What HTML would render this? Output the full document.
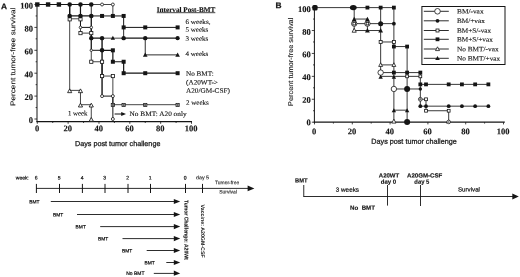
<!DOCTYPE html>
<html lang="en">
<head>
<meta charset="utf-8">
<title>Figure</title>
<style>
html,body{margin:0;padding:0;background:#fff;}
body{width:520px;height:277px;overflow:hidden;}
svg{display:block;}
</style>
</head>
<body>
<svg width="520" height="277" viewBox="0 0 520 277">
<rect x="0" y="0" width="520" height="277" fill="#fff"/>
<line x1="37.00" y1="4.00" x2="37.00" y2="122.10" stroke="#151515" stroke-width="1.0"/>
<line x1="36.50" y1="121.60" x2="192.00" y2="121.60" stroke="#151515" stroke-width="1.1"/>
<line x1="37.00" y1="119.00" x2="34.40" y2="119.00" stroke="#151515" stroke-width="0.8"/>
<line x1="37.00" y1="107.55" x2="35.60" y2="107.55" stroke="#151515" stroke-width="0.8"/>
<line x1="37.00" y1="96.10" x2="34.40" y2="96.10" stroke="#151515" stroke-width="0.8"/>
<line x1="37.00" y1="84.65" x2="35.60" y2="84.65" stroke="#151515" stroke-width="0.8"/>
<line x1="37.00" y1="73.20" x2="34.40" y2="73.20" stroke="#151515" stroke-width="0.8"/>
<line x1="37.00" y1="61.75" x2="35.60" y2="61.75" stroke="#151515" stroke-width="0.8"/>
<line x1="37.00" y1="50.30" x2="34.40" y2="50.30" stroke="#151515" stroke-width="0.8"/>
<line x1="37.00" y1="38.85" x2="35.60" y2="38.85" stroke="#151515" stroke-width="0.8"/>
<line x1="37.00" y1="27.40" x2="34.40" y2="27.40" stroke="#151515" stroke-width="0.8"/>
<line x1="37.00" y1="15.95" x2="35.60" y2="15.95" stroke="#151515" stroke-width="0.8"/>
<line x1="37.00" y1="4.50" x2="34.40" y2="4.50" stroke="#151515" stroke-width="0.8"/>
<line x1="37.30" y1="121.60" x2="37.30" y2="123.80" stroke="#151515" stroke-width="0.8"/>
<line x1="52.72" y1="121.60" x2="52.72" y2="123.00" stroke="#151515" stroke-width="0.8"/>
<line x1="68.14" y1="121.60" x2="68.14" y2="123.80" stroke="#151515" stroke-width="0.8"/>
<line x1="83.56" y1="121.60" x2="83.56" y2="123.00" stroke="#151515" stroke-width="0.8"/>
<line x1="98.98" y1="121.60" x2="98.98" y2="123.80" stroke="#151515" stroke-width="0.8"/>
<line x1="114.40" y1="121.60" x2="114.40" y2="123.00" stroke="#151515" stroke-width="0.8"/>
<line x1="129.82" y1="121.60" x2="129.82" y2="123.80" stroke="#151515" stroke-width="0.8"/>
<line x1="145.24" y1="121.60" x2="145.24" y2="123.00" stroke="#151515" stroke-width="0.8"/>
<line x1="160.66" y1="121.60" x2="160.66" y2="123.80" stroke="#151515" stroke-width="0.8"/>
<line x1="176.08" y1="121.60" x2="176.08" y2="123.00" stroke="#151515" stroke-width="0.8"/>
<line x1="191.50" y1="121.60" x2="191.50" y2="123.80" stroke="#151515" stroke-width="0.8"/>
<text transform="translate(33.00,123.00) rotate(0.05)" font-family="'Liberation Serif', serif" font-size="8.5" font-weight="bold" text-anchor="end" fill="#151515" stroke="#151515" stroke-width="0.12">0</text>
<text transform="translate(33.00,100.10) rotate(0.05)" font-family="'Liberation Serif', serif" font-size="8.5" font-weight="bold" text-anchor="end" fill="#151515" stroke="#151515" stroke-width="0.12">20</text>
<text transform="translate(33.00,77.20) rotate(0.05)" font-family="'Liberation Serif', serif" font-size="8.5" font-weight="bold" text-anchor="end" fill="#151515" stroke="#151515" stroke-width="0.12">40</text>
<text transform="translate(33.00,54.30) rotate(0.05)" font-family="'Liberation Serif', serif" font-size="8.5" font-weight="bold" text-anchor="end" fill="#151515" stroke="#151515" stroke-width="0.12">60</text>
<text transform="translate(33.00,31.40) rotate(0.05)" font-family="'Liberation Serif', serif" font-size="8.5" font-weight="bold" text-anchor="end" fill="#151515" stroke="#151515" stroke-width="0.12">80</text>
<text transform="translate(33.00,8.50) rotate(0.05)" font-family="'Liberation Serif', serif" font-size="8.5" font-weight="bold" text-anchor="end" fill="#151515" stroke="#151515" stroke-width="0.12">100</text>
<text transform="translate(37.00,131.20) rotate(0.05)" font-family="'Liberation Serif', serif" font-size="8.5" font-weight="bold" text-anchor="middle" fill="#151515" stroke="#151515" stroke-width="0.12">0</text>
<text transform="translate(67.84,131.20) rotate(0.05)" font-family="'Liberation Serif', serif" font-size="8.5" font-weight="bold" text-anchor="middle" fill="#151515" stroke="#151515" stroke-width="0.12">20</text>
<text transform="translate(98.68,131.20) rotate(0.05)" font-family="'Liberation Serif', serif" font-size="8.5" font-weight="bold" text-anchor="middle" fill="#151515" stroke="#151515" stroke-width="0.12">40</text>
<text transform="translate(129.52,131.20) rotate(0.05)" font-family="'Liberation Serif', serif" font-size="8.5" font-weight="bold" text-anchor="middle" fill="#151515" stroke="#151515" stroke-width="0.12">60</text>
<text transform="translate(160.36,131.20) rotate(0.05)" font-family="'Liberation Serif', serif" font-size="8.5" font-weight="bold" text-anchor="middle" fill="#151515" stroke="#151515" stroke-width="0.12">80</text>
<text transform="translate(191.20,131.20) rotate(0.05)" font-family="'Liberation Serif', serif" font-size="8.5" font-weight="bold" text-anchor="middle" fill="#151515" stroke="#151515" stroke-width="0.12">100</text>
<polyline points="37.30,4.50 91.27,4.50" fill="none" stroke="#151515" stroke-width="1.2"/>
<polyline points="91.27,4.50 112.86,4.50 112.86,15.95" fill="none" stroke="#151515" stroke-width="0.8"/>
<polyline points="91.27,4.50 91.27,15.95" fill="none" stroke="#151515" stroke-width="0.9"/>
<polyline points="69.68,4.50 69.68,90.38 80.48,90.38 80.48,104.69 91.27,104.69 91.27,119.00" fill="none" stroke="#151515" stroke-width="0.8"/>
<polyline points="80.48,4.50 80.48,27.40 91.27,27.40 91.27,50.30 102.06,50.30" fill="none" stroke="#151515" stroke-width="1.0"/>
<polyline points="102.06,96.10 112.86,96.10 112.86,119.00" fill="none" stroke="#151515" stroke-width="1.0"/>
<polyline points="69.68,4.50 69.68,18.81 80.48,18.81 80.48,33.12 91.27,33.12 91.27,61.75 102.06,61.75 102.06,76.06 112.86,76.06 112.86,104.69 177.62,104.69" fill="none" stroke="#151515" stroke-width="0.8"/>
<polyline points="69.68,4.50 69.68,15.95 91.27,15.95" fill="none" stroke="#151515" stroke-width="1.2"/>
<polyline points="91.27,15.95 123.65,15.95 123.65,27.40 177.62,27.40" fill="none" stroke="#151515" stroke-width="1.0"/>
<polyline points="123.65,27.40 123.65,38.16" fill="none" stroke="#151515" stroke-width="0.9"/>
<polyline points="80.48,4.50 80.48,15.95" fill="none" stroke="#151515" stroke-width="1.2"/>
<polyline points="91.27,15.95 91.27,38.16 102.06,38.16" fill="none" stroke="#151515" stroke-width="1.3"/>
<polyline points="102.06,38.16 123.65,38.16" fill="none" stroke="#151515" stroke-width="0.8"/>
<polyline points="123.65,38.16 177.62,38.16" fill="none" stroke="#151515" stroke-width="1.1"/>
<polyline points="145.24,38.16 145.24,54.88 177.62,54.88" fill="none" stroke="#151515" stroke-width="0.9"/>
<polyline points="102.06,50.30 112.86,50.30 112.86,61.75 123.65,61.75 123.65,73.20 177.62,73.20" fill="none" stroke="#151515" stroke-width="1.2"/>
<polyline points="102.06,38.16 102.06,96.10" fill="none" stroke="#151515" stroke-width="1.4"/>
<rect x="35.10" y="2.30" width="4.40" height="4.40" fill="#151515"/>
<rect x="45.89" y="2.30" width="4.40" height="4.40" fill="#151515"/>
<rect x="56.69" y="2.30" width="4.40" height="4.40" fill="#151515"/>
<circle cx="69.68" cy="4.50" r="2.30" fill="#151515"/>
<circle cx="80.48" cy="4.50" r="2.30" fill="#151515"/>
<circle cx="91.27" cy="4.50" r="2.30" fill="#151515"/>
<circle cx="102.06" cy="4.50" r="1.50" fill="#fff" stroke="#151515" stroke-width="0.8"/>
<circle cx="112.86" cy="4.50" r="1.50" fill="#fff" stroke="#151515" stroke-width="0.8"/>
<rect x="68.08" y="17.71" width="3.20" height="3.20" fill="#fff" stroke="#151515" stroke-width="0.8"/>
<rect x="78.88" y="17.71" width="3.20" height="3.20" fill="#fff" stroke="#151515" stroke-width="0.8"/>
<circle cx="69.68" cy="15.95" r="2.30" fill="#151515"/>
<circle cx="80.48" cy="15.95" r="2.30" fill="#151515"/>
<circle cx="91.27" cy="15.95" r="2.30" fill="#151515"/>
<rect x="100.06" y="13.95" width="4.00" height="4.00" fill="#151515"/>
<rect x="110.86" y="13.95" width="4.00" height="4.00" fill="#151515"/>
<rect x="121.65" y="13.95" width="4.00" height="4.00" fill="#151515"/>
<circle cx="80.48" cy="27.40" r="1.30" fill="#fff" stroke="#151515" stroke-width="0.8"/>
<circle cx="91.27" cy="27.40" r="1.30" fill="#fff" stroke="#151515" stroke-width="0.8"/>
<rect x="121.65" y="25.40" width="4.00" height="4.00" fill="#151515"/>
<rect x="143.24" y="25.40" width="4.00" height="4.00" fill="#151515"/>
<rect x="175.62" y="25.40" width="4.00" height="4.00" fill="#151515"/>
<rect x="78.88" y="31.52" width="3.20" height="3.20" fill="#fff" stroke="#151515" stroke-width="0.8"/>
<rect x="89.67" y="31.52" width="3.20" height="3.20" fill="#fff" stroke="#151515" stroke-width="0.8"/>
<circle cx="91.27" cy="38.16" r="2.20" fill="#151515"/>
<circle cx="102.06" cy="38.16" r="2.20" fill="#151515"/>
<circle cx="123.65" cy="38.16" r="2.20" fill="#151515"/>
<circle cx="145.24" cy="38.16" r="2.20" fill="#151515"/>
<polygon points="112.86,35.86 115.06,39.86 110.66,39.86" fill="#151515"/>
<circle cx="177.62" cy="38.16" r="2.10" fill="#151515"/>
<circle cx="91.27" cy="50.30" r="1.20" fill="#fff" stroke="#151515" stroke-width="0.8"/>
<circle cx="102.06" cy="50.30" r="2.30" fill="#151515"/>
<rect x="110.86" y="48.30" width="4.00" height="4.00" fill="#151515"/>
<polygon points="145.24,52.48 147.54,56.68 142.94,56.68" fill="#151515"/>
<polygon points="177.62,52.48 179.92,56.68 175.32,56.68" fill="#151515"/>
<rect x="89.67" y="60.15" width="3.20" height="3.20" fill="#fff" stroke="#151515" stroke-width="0.8"/>
<rect x="100.46" y="60.15" width="3.20" height="3.20" fill="#fff" stroke="#151515" stroke-width="0.8"/>
<rect x="110.86" y="59.75" width="4.00" height="4.00" fill="#151515"/>
<rect x="121.65" y="59.75" width="4.00" height="4.00" fill="#151515"/>
<rect x="121.65" y="71.20" width="4.00" height="4.00" fill="#151515"/>
<rect x="143.24" y="71.20" width="4.00" height="4.00" fill="#151515"/>
<rect x="175.62" y="71.20" width="4.00" height="4.00" fill="#151515"/>
<rect x="100.46" y="74.46" width="3.20" height="3.20" fill="#fff" stroke="#151515" stroke-width="0.8"/>
<rect x="111.26" y="74.46" width="3.20" height="3.20" fill="#fff" stroke="#151515" stroke-width="0.8"/>
<polygon points="69.68,88.88 71.78,92.67 67.58,92.67" fill="#fff" stroke="#151515" stroke-width="0.85"/>
<polygon points="80.48,88.88 82.58,92.67 78.38,92.67" fill="#fff" stroke="#151515" stroke-width="0.85"/>
<polygon points="80.48,103.19 82.58,106.99 78.38,106.99" fill="#fff" stroke="#151515" stroke-width="0.85"/>
<polygon points="91.27,103.19 93.37,106.99 89.17,106.99" fill="#fff" stroke="#151515" stroke-width="0.85"/>
<polygon points="91.27,117.50 93.37,121.30 89.17,121.30" fill="#fff" stroke="#151515" stroke-width="0.85"/>
<circle cx="102.06" cy="96.10" r="1.50" fill="#fff" stroke="#151515" stroke-width="0.8"/>
<circle cx="112.86" cy="96.10" r="1.50" fill="#fff" stroke="#151515" stroke-width="0.8"/>
<rect x="111.26" y="103.39" width="3.20" height="3.20" fill="#fff" stroke="#151515" stroke-width="0.8"/>
<circle cx="112.86" cy="104.99" r="1.3" fill="#666"/>
<rect x="122.05" y="103.39" width="3.20" height="3.20" fill="#fff" stroke="#151515" stroke-width="0.8"/>
<circle cx="123.65" cy="104.99" r="1.3" fill="#666"/>
<rect x="143.64" y="103.39" width="3.20" height="3.20" fill="#fff" stroke="#151515" stroke-width="0.8"/>
<circle cx="145.24" cy="104.99" r="1.3" fill="#666"/>
<rect x="176.02" y="103.39" width="3.20" height="3.20" fill="#fff" stroke="#151515" stroke-width="0.8"/>
<circle cx="177.62" cy="104.99" r="1.3" fill="#666"/>
<circle cx="112.86" cy="119.00" r="1.50" fill="#fff" stroke="#151515" stroke-width="0.8"/>
<text transform="translate(1.00,9.30) rotate(0.05)" font-family="'Liberation Sans', sans-serif" font-size="8.4" font-weight="bold" text-anchor="start" fill="#151515" stroke="#151515" stroke-width="0.22">A</text>
<text transform="translate(15.20,106.00) rotate(-89.95) scale(1.1892,1)" font-family="'Liberation Sans', sans-serif" font-size="6.9" font-weight="normal" text-anchor="start" fill="#151515" stroke="#151515" stroke-width="0.1">Percent tumor-free survival</text>
<text transform="translate(156.80,12.00) rotate(0.05) scale(0.9984,1)" font-family="'Liberation Serif', serif" font-size="7.2" font-weight="bold" text-anchor="start" fill="#151515" stroke="#151515" stroke-width="0.15">Interval Post-BMT</text>
<line x1="156.80" y1="12.70" x2="215.30" y2="12.70" stroke="#151515" stroke-width="0.8"/>
<text transform="translate(185.50,24.00) rotate(0.05) scale(1.0664,1)" font-family="'Liberation Serif', serif" font-size="6.7" font-weight="normal" text-anchor="start" fill="#151515" stroke="#151515" stroke-width="0.12">6 weeks,</text>
<text transform="translate(185.50,31.80) rotate(0.05) scale(1.0474,1)" font-family="'Liberation Serif', serif" font-size="6.7" font-weight="normal" text-anchor="start" fill="#151515" stroke="#151515" stroke-width="0.12">5 weeks</text>
<text transform="translate(185.50,40.80) rotate(0.05) scale(1.0474,1)" font-family="'Liberation Serif', serif" font-size="6.7" font-weight="normal" text-anchor="start" fill="#151515" stroke="#151515" stroke-width="0.12">3 weeks</text>
<text transform="translate(185.50,56.00) rotate(0.05) scale(1.0474,1)" font-family="'Liberation Serif', serif" font-size="6.7" font-weight="normal" text-anchor="start" fill="#151515" stroke="#151515" stroke-width="0.12">4 weeks</text>
<text transform="translate(186.00,75.80) rotate(0.05) scale(1.0691,1)" font-family="'Liberation Serif', serif" font-size="6.7" font-weight="normal" text-anchor="start" fill="#151515" stroke="#151515" stroke-width="0.12">No BMT:</text>
<text transform="translate(186.00,84.40) rotate(0.05) scale(1.0818,1)" font-family="'Liberation Serif', serif" font-size="6.7" font-weight="normal" text-anchor="start" fill="#151515" stroke="#151515" stroke-width="0.12">(A20WT-&gt;</text>
<text transform="translate(186.00,92.80) rotate(0.05) scale(1.0843,1)" font-family="'Liberation Serif', serif" font-size="6.7" font-weight="normal" text-anchor="start" fill="#151515" stroke="#151515" stroke-width="0.12">A20/GM-CSF)</text>
<text transform="translate(186.00,104.80) rotate(0.05) scale(1.0474,1)" font-family="'Liberation Serif', serif" font-size="6.7" font-weight="normal" text-anchor="start" fill="#151515" stroke="#151515" stroke-width="0.12">2 weeks</text>
<text transform="translate(68.00,115.60) rotate(0.05) scale(1.0177,1)" font-family="'Liberation Serif', serif" font-size="6.7" font-weight="normal" text-anchor="start" fill="#151515" stroke="#151515" stroke-width="0.12">1 week</text>
<text transform="translate(129.60,116.00) rotate(0.05) scale(1.0890,1)" font-family="'Liberation Serif', serif" font-size="6.7" font-weight="normal" text-anchor="start" fill="#151515" stroke="#151515" stroke-width="0.12">No BMT: A20 only</text>
<line x1="114.60" y1="114.00" x2="122.00" y2="114.00" stroke="#151515" stroke-width="1.0"/>
<polygon points="126,114 121.2,112 121.2,116" fill="#151515"/>
<text transform="translate(75.00,146.00) rotate(0.05) scale(1.0030,1)" font-family="'Liberation Sans', sans-serif" font-size="7.2" font-weight="normal" text-anchor="start" fill="#151515" stroke="#151515" stroke-width="0.25">Days post tumor challenge</text>
<line x1="314.40" y1="7.10" x2="314.40" y2="122.70" stroke="#151515" stroke-width="1.0"/>
<line x1="313.70" y1="122.20" x2="504.80" y2="122.20" stroke="#151515" stroke-width="1.2"/>
<line x1="314.40" y1="122.20" x2="311.80" y2="122.20" stroke="#151515" stroke-width="0.8"/>
<line x1="314.40" y1="110.74" x2="313.00" y2="110.74" stroke="#151515" stroke-width="0.8"/>
<line x1="314.40" y1="99.28" x2="311.80" y2="99.28" stroke="#151515" stroke-width="0.8"/>
<line x1="314.40" y1="87.82" x2="313.00" y2="87.82" stroke="#151515" stroke-width="0.8"/>
<line x1="314.40" y1="76.36" x2="311.80" y2="76.36" stroke="#151515" stroke-width="0.8"/>
<line x1="314.40" y1="64.90" x2="313.00" y2="64.90" stroke="#151515" stroke-width="0.8"/>
<line x1="314.40" y1="53.44" x2="311.80" y2="53.44" stroke="#151515" stroke-width="0.8"/>
<line x1="314.40" y1="41.98" x2="313.00" y2="41.98" stroke="#151515" stroke-width="0.8"/>
<line x1="314.40" y1="30.52" x2="311.80" y2="30.52" stroke="#151515" stroke-width="0.8"/>
<line x1="314.40" y1="19.06" x2="313.00" y2="19.06" stroke="#151515" stroke-width="0.8"/>
<line x1="314.40" y1="7.60" x2="311.80" y2="7.60" stroke="#151515" stroke-width="0.8"/>
<line x1="314.50" y1="122.20" x2="314.50" y2="124.40" stroke="#151515" stroke-width="0.8"/>
<line x1="333.40" y1="122.20" x2="333.40" y2="123.60" stroke="#151515" stroke-width="0.8"/>
<line x1="352.30" y1="122.20" x2="352.30" y2="124.40" stroke="#151515" stroke-width="0.8"/>
<line x1="371.20" y1="122.20" x2="371.20" y2="123.60" stroke="#151515" stroke-width="0.8"/>
<line x1="390.10" y1="122.20" x2="390.10" y2="124.40" stroke="#151515" stroke-width="0.8"/>
<line x1="409.00" y1="122.20" x2="409.00" y2="123.60" stroke="#151515" stroke-width="0.8"/>
<line x1="427.90" y1="122.20" x2="427.90" y2="124.40" stroke="#151515" stroke-width="0.8"/>
<line x1="446.80" y1="122.20" x2="446.80" y2="123.60" stroke="#151515" stroke-width="0.8"/>
<line x1="465.70" y1="122.20" x2="465.70" y2="124.40" stroke="#151515" stroke-width="0.8"/>
<line x1="484.60" y1="122.20" x2="484.60" y2="123.60" stroke="#151515" stroke-width="0.8"/>
<line x1="503.50" y1="122.20" x2="503.50" y2="124.40" stroke="#151515" stroke-width="0.8"/>
<text transform="translate(310.80,125.30) rotate(0.05)" font-family="'Liberation Serif', serif" font-size="8.5" font-weight="bold" text-anchor="end" fill="#151515" stroke="#151515" stroke-width="0.12">0</text>
<text transform="translate(310.80,102.64) rotate(0.05)" font-family="'Liberation Serif', serif" font-size="8.5" font-weight="bold" text-anchor="end" fill="#151515" stroke="#151515" stroke-width="0.12">20</text>
<text transform="translate(310.80,79.98) rotate(0.05)" font-family="'Liberation Serif', serif" font-size="8.5" font-weight="bold" text-anchor="end" fill="#151515" stroke="#151515" stroke-width="0.12">40</text>
<text transform="translate(310.80,57.32) rotate(0.05)" font-family="'Liberation Serif', serif" font-size="8.5" font-weight="bold" text-anchor="end" fill="#151515" stroke="#151515" stroke-width="0.12">60</text>
<text transform="translate(310.80,34.66) rotate(0.05)" font-family="'Liberation Serif', serif" font-size="8.5" font-weight="bold" text-anchor="end" fill="#151515" stroke="#151515" stroke-width="0.12">80</text>
<text transform="translate(310.80,12.00) rotate(0.05)" font-family="'Liberation Serif', serif" font-size="8.5" font-weight="bold" text-anchor="end" fill="#151515" stroke="#151515" stroke-width="0.12">100</text>
<text transform="translate(314.20,134.20) rotate(0.05)" font-family="'Liberation Serif', serif" font-size="8.5" font-weight="bold" text-anchor="middle" fill="#151515" stroke="#151515" stroke-width="0.12">0</text>
<text transform="translate(352.00,134.20) rotate(0.05)" font-family="'Liberation Serif', serif" font-size="8.5" font-weight="bold" text-anchor="middle" fill="#151515" stroke="#151515" stroke-width="0.12">20</text>
<text transform="translate(389.80,134.20) rotate(0.05)" font-family="'Liberation Serif', serif" font-size="8.5" font-weight="bold" text-anchor="middle" fill="#151515" stroke="#151515" stroke-width="0.12">40</text>
<text transform="translate(427.60,134.20) rotate(0.05)" font-family="'Liberation Serif', serif" font-size="8.5" font-weight="bold" text-anchor="middle" fill="#151515" stroke="#151515" stroke-width="0.12">60</text>
<text transform="translate(465.40,134.20) rotate(0.05)" font-family="'Liberation Serif', serif" font-size="8.5" font-weight="bold" text-anchor="middle" fill="#151515" stroke="#151515" stroke-width="0.12">80</text>
<text transform="translate(503.20,134.20) rotate(0.05)" font-family="'Liberation Serif', serif" font-size="8.5" font-weight="bold" text-anchor="middle" fill="#151515" stroke="#151515" stroke-width="0.12">100</text>
<polyline points="314.50,7.60 393.88,7.60" fill="none" stroke="#151515" stroke-width="0.85"/>
<polyline points="354.19,7.60 354.19,30.52" fill="none" stroke="#151515" stroke-width="0.85"/>
<polyline points="354.19,23.64 393.88,23.64" fill="none" stroke="#151515" stroke-width="0.85"/>
<polyline points="380.65,7.60 380.65,76.36" fill="none" stroke="#151515" stroke-width="0.85"/>
<polyline points="380.65,72.58 420.34,72.58" fill="none" stroke="#151515" stroke-width="0.85"/>
<polyline points="380.65,76.36 420.34,76.36" fill="none" stroke="#151515" stroke-width="0.85"/>
<polyline points="393.88,7.60 393.88,122.20" fill="none" stroke="#151515" stroke-width="0.85"/>
<polyline points="393.88,88.97 420.34,88.97" fill="none" stroke="#151515" stroke-width="0.85"/>
<polyline points="407.11,46.56 407.11,122.20" fill="none" stroke="#151515" stroke-width="0.85"/>
<polyline points="420.34,72.58 420.34,106.16 488.38,106.16" fill="none" stroke="#151515" stroke-width="0.85"/>
<polyline points="380.65,41.98 393.88,41.98" fill="none" stroke="#151515" stroke-width="0.85"/>
<polyline points="420.34,99.28 426.01,99.28 426.01,110.74 448.69,110.74 448.69,122.20" fill="none" stroke="#151515" stroke-width="0.85"/>
<polyline points="393.88,46.56 407.11,46.56" fill="none" stroke="#151515" stroke-width="0.85"/>
<polyline points="420.34,84.38 488.38,84.38" fill="none" stroke="#151515" stroke-width="0.85"/>
<polyline points="354.19,30.52 380.65,30.52" fill="none" stroke="#151515" stroke-width="0.85"/>
<polyline points="380.65,64.90 393.88,64.90" fill="none" stroke="#151515" stroke-width="0.85"/>
<polyline points="354.19,19.06 367.42,19.06 367.42,30.52" fill="none" stroke="#151515" stroke-width="0.85"/>
<polyline points="393.88,110.17 407.11,110.17" fill="none" stroke="#151515" stroke-width="0.85"/>
<rect x="312.3" y="5.0" width="5.3" height="5.5" rx="1.6" fill="#151515"/>
<ellipse cx="353.29" cy="7.60" rx="3.4" ry="2.7" fill="#151515"/>
<rect x="365.52" y="5.70" width="3.80" height="3.80" fill="#151515"/>
<rect x="378.75" y="5.70" width="3.80" height="3.80" fill="#151515"/>
<rect x="391.98" y="5.70" width="3.80" height="3.80" fill="#151515"/>
<circle cx="354.19" cy="23.64" r="2.70" fill="#fff" stroke="#151515" stroke-width="0.8"/>
<rect x="352.89" y="22.34" width="2.60" height="2.60" fill="#fff" stroke="#151515" stroke-width="0.8"/>
<circle cx="367.42" cy="23.64" r="2.70" fill="#fff" stroke="#151515" stroke-width="0.8"/>
<rect x="366.12" y="22.34" width="2.60" height="2.60" fill="#fff" stroke="#151515" stroke-width="0.8"/>
<polygon points="354.19,16.86 356.59,21.26 351.79,21.26" fill="#151515"/>
<polygon points="367.42,16.86 369.82,21.26 365.02,21.26" fill="#151515"/>
<circle cx="380.65" cy="23.64" r="2.50" fill="#151515"/>
<circle cx="393.88" cy="23.64" r="1.90" fill="#151515"/>
<polygon points="354.19,28.22 356.29,32.22 352.09,32.22" fill="#fff" stroke="#151515" stroke-width="0.8"/>
<polygon points="367.42,28.02 369.82,32.42 365.02,32.42" fill="#151515"/>
<polygon points="380.65,28.02 383.05,32.42 378.25,32.42" fill="#151515"/>
<rect x="379.15" y="40.48" width="3.00" height="3.00" fill="#fff" stroke="#151515" stroke-width="0.8"/>
<rect x="392.38" y="40.48" width="3.00" height="3.00" fill="#fff" stroke="#151515" stroke-width="0.8"/>
<rect x="391.98" y="44.66" width="3.80" height="3.80" fill="#151515"/>
<rect x="405.21" y="44.66" width="3.80" height="3.80" fill="#151515"/>
<polygon points="380.65,62.75 382.60,66.45 378.70,66.45" fill="#fff" stroke="#151515" stroke-width="0.8"/>
<polygon points="393.88,62.75 395.83,66.45 391.93,66.45" fill="#fff" stroke="#151515" stroke-width="0.8"/>
<circle cx="380.65" cy="72.58" r="2.70" fill="#fff" stroke="#151515" stroke-width="0.8"/>
<rect x="391.98" y="70.68" width="3.80" height="3.80" fill="#151515"/>
<rect x="405.21" y="70.68" width="3.80" height="3.80" fill="#151515"/>
<rect x="418.44" y="70.68" width="3.80" height="3.80" fill="#151515"/>
<polygon points="380.65,74.66 382.85,78.66 378.45,78.66" fill="#151515"/>
<polygon points="393.88,74.66 396.08,78.66 391.68,78.66" fill="#151515"/>
<rect x="405.71" y="74.96" width="2.80" height="2.80" fill="#fff" stroke="#151515" stroke-width="0.8"/>
<rect x="418.94" y="74.96" width="2.80" height="2.80" fill="#fff" stroke="#151515" stroke-width="0.8"/>
<rect x="418.44" y="82.48" width="3.80" height="3.80" fill="#151515"/>
<rect x="424.11" y="82.48" width="3.80" height="3.80" fill="#151515"/>
<rect x="446.79" y="82.48" width="3.80" height="3.80" fill="#151515"/>
<rect x="460.02" y="82.48" width="3.80" height="3.80" fill="#151515"/>
<rect x="473.25" y="82.48" width="3.80" height="3.80" fill="#151515"/>
<rect x="486.48" y="82.48" width="3.80" height="3.80" fill="#151515"/>
<circle cx="393.88" cy="88.97" r="2.70" fill="#fff" stroke="#151515" stroke-width="0.8"/>
<circle cx="407.11" cy="88.97" r="3.00" fill="#151515"/>
<circle cx="420.34" cy="88.97" r="1.70" fill="#151515"/>
<circle cx="420.34" cy="99.28" r="1.90" fill="#fff" stroke="#151515" stroke-width="0.8"/>
<circle cx="420.34" cy="99.28" r="1.2" fill="#777"/>
<rect x="424.61" y="97.88" width="2.80" height="2.80" fill="#fff" stroke="#151515" stroke-width="0.8"/>
<circle cx="420.34" cy="106.16" r="1.90" fill="#151515"/>
<circle cx="426.01" cy="106.16" r="1.90" fill="#151515"/>
<circle cx="448.69" cy="106.16" r="1.90" fill="#151515"/>
<circle cx="461.92" cy="106.16" r="1.90" fill="#151515"/>
<circle cx="475.15" cy="106.16" r="1.90" fill="#151515"/>
<circle cx="488.38" cy="106.16" r="1.90" fill="#151515"/>
<polygon points="393.88,108.17 396.08,112.17 391.68,112.17" fill="#151515"/>
<polygon points="407.11,108.17 409.31,112.17 404.91,112.17" fill="#151515"/>
<rect x="424.61" y="109.34" width="2.80" height="2.80" fill="#fff" stroke="#151515" stroke-width="0.8"/>
<rect x="447.29" y="109.34" width="2.80" height="2.80" fill="#fff" stroke="#151515" stroke-width="0.8"/>
<polygon points="393.88,119.10 395.98,123.10 391.78,123.10" fill="#fff" stroke="#151515" stroke-width="0.8"/>
<circle cx="407.11" cy="121.90" r="3.00" fill="#151515"/>
<circle cx="448.69" cy="121.90" r="1.80" fill="#fff" stroke="#151515" stroke-width="0.8"/>
<circle cx="448.69" cy="121.90" r="1.0" fill="#888"/>
<rect x="421.9" y="6.5" width="83.1" height="58.0" fill="#fff" stroke="#151515" stroke-width="1.0"/>
<line x1="423.80" y1="11.30" x2="448.80" y2="11.30" stroke="#151515" stroke-width="0.9"/>
<circle cx="437.50" cy="11.30" r="2.80" fill="#fff" stroke="#151515" stroke-width="0.8"/>
<text transform="translate(457.00,13.60) rotate(0.05) scale(1.0995,1)" font-family="'Liberation Serif', serif" font-size="6.7" font-weight="normal" text-anchor="start" fill="#151515" stroke="#151515" stroke-width="0.12">BM/-vax</text>
<line x1="423.80" y1="20.80" x2="448.80" y2="20.80" stroke="#151515" stroke-width="0.9"/>
<circle cx="437.50" cy="20.80" r="1.90" fill="#151515"/>
<text transform="translate(457.00,23.10) rotate(0.05) scale(1.0800,1)" font-family="'Liberation Serif', serif" font-size="6.7" font-weight="normal" text-anchor="start" fill="#151515" stroke="#151515" stroke-width="0.12">BM/+vax</text>
<line x1="423.80" y1="30.50" x2="448.80" y2="30.50" stroke="#151515" stroke-width="0.9"/>
<rect x="436.00" y="29.00" width="3.00" height="3.00" fill="#fff" stroke="#151515" stroke-width="0.8"/>
<text transform="translate(457.00,32.80) rotate(0.05) scale(1.0790,1)" font-family="'Liberation Serif', serif" font-size="6.7" font-weight="normal" text-anchor="start" fill="#151515" stroke="#151515" stroke-width="0.12">BM+S/-vax</text>
<line x1="423.80" y1="39.30" x2="448.80" y2="39.30" stroke="#151515" stroke-width="0.9"/>
<rect x="435.60" y="37.40" width="3.80" height="3.80" fill="#151515"/>
<text transform="translate(457.00,41.60) rotate(0.05) scale(1.0769,1)" font-family="'Liberation Serif', serif" font-size="6.7" font-weight="normal" text-anchor="start" fill="#151515" stroke="#151515" stroke-width="0.12">BM+S/+vax</text>
<line x1="423.80" y1="49.00" x2="448.80" y2="49.00" stroke="#151515" stroke-width="0.9"/>
<polygon points="437.50,46.80 439.50,50.60 435.50,50.60" fill="#fff" stroke="#151515" stroke-width="0.8"/>
<text transform="translate(457.00,51.30) rotate(0.05) scale(1.0905,1)" font-family="'Liberation Serif', serif" font-size="6.7" font-weight="normal" text-anchor="start" fill="#151515" stroke="#151515" stroke-width="0.12">No BMT/-vax</text>
<line x1="423.80" y1="58.30" x2="448.80" y2="58.30" stroke="#151515" stroke-width="0.9"/>
<polygon points="437.50,55.90 439.80,60.10 435.20,60.10" fill="#151515"/>
<text transform="translate(457.00,60.60) rotate(0.05) scale(1.0908,1)" font-family="'Liberation Serif', serif" font-size="6.7" font-weight="normal" text-anchor="start" fill="#151515" stroke="#151515" stroke-width="0.12">No BMT/+vax</text>
<text transform="translate(275.60,8.30) rotate(0.05)" font-family="'Liberation Sans', sans-serif" font-size="8.4" font-weight="bold" text-anchor="start" fill="#151515" stroke="#151515" stroke-width="0.22">B</text>
<text transform="translate(293.00,106.00) rotate(-89.95) scale(1.0685,1)" font-family="'Liberation Sans', sans-serif" font-size="6.9" font-weight="normal" text-anchor="start" fill="#151515" stroke="#151515" stroke-width="0.1">Percent tumor-free survival</text>
<text transform="translate(371.30,143.80) rotate(0.05) scale(1.0030,1)" font-family="'Liberation Sans', sans-serif" font-size="7.2" font-weight="normal" text-anchor="start" fill="#151515" stroke="#151515" stroke-width="0.25">Days post tumor challenge</text>
<line x1="36.00" y1="188.40" x2="249.00" y2="188.40" stroke="#151515" stroke-width="0.9"/>
<polygon points="254.4,188.4 247.6,185.6 247.6,191.20000000000002" fill="#151515"/>
<line x1="36.40" y1="183.90" x2="36.40" y2="193.00" stroke="#151515" stroke-width="1.0"/>
<line x1="59.50" y1="183.90" x2="59.50" y2="193.00" stroke="#151515" stroke-width="1.0"/>
<line x1="82.40" y1="183.90" x2="82.40" y2="193.00" stroke="#151515" stroke-width="1.0"/>
<line x1="105.00" y1="183.90" x2="105.00" y2="193.00" stroke="#151515" stroke-width="1.0"/>
<line x1="128.00" y1="183.90" x2="128.00" y2="193.00" stroke="#151515" stroke-width="1.0"/>
<line x1="150.50" y1="183.90" x2="150.50" y2="193.00" stroke="#151515" stroke-width="1.0"/>
<line x1="185.50" y1="183.90" x2="185.50" y2="193.00" stroke="#151515" stroke-width="1.0"/>
<line x1="202.50" y1="183.90" x2="202.50" y2="193.00" stroke="#151515" stroke-width="1.0"/>
<text transform="translate(36.10,179.40) rotate(0.05)" font-family="'Liberation Sans', sans-serif" font-size="5.1" font-weight="normal" text-anchor="middle" fill="#151515" stroke="#151515" stroke-width="0.22">6</text>
<text transform="translate(59.20,179.40) rotate(0.05)" font-family="'Liberation Sans', sans-serif" font-size="5.1" font-weight="normal" text-anchor="middle" fill="#151515" stroke="#151515" stroke-width="0.22">5</text>
<text transform="translate(82.10,179.40) rotate(0.05)" font-family="'Liberation Sans', sans-serif" font-size="5.1" font-weight="normal" text-anchor="middle" fill="#151515" stroke="#151515" stroke-width="0.22">4</text>
<text transform="translate(104.70,179.40) rotate(0.05)" font-family="'Liberation Sans', sans-serif" font-size="5.1" font-weight="normal" text-anchor="middle" fill="#151515" stroke="#151515" stroke-width="0.22">3</text>
<text transform="translate(127.70,179.40) rotate(0.05)" font-family="'Liberation Sans', sans-serif" font-size="5.1" font-weight="normal" text-anchor="middle" fill="#151515" stroke="#151515" stroke-width="0.22">2</text>
<text transform="translate(150.20,179.40) rotate(0.05)" font-family="'Liberation Sans', sans-serif" font-size="5.1" font-weight="normal" text-anchor="middle" fill="#151515" stroke="#151515" stroke-width="0.22">1</text>
<text transform="translate(185.20,179.40) rotate(0.05)" font-family="'Liberation Sans', sans-serif" font-size="5.1" font-weight="normal" text-anchor="middle" fill="#151515" stroke="#151515" stroke-width="0.22">0</text>
<text transform="translate(15.80,179.40) rotate(0.05) scale(0.9953,1)" font-family="'Liberation Sans', sans-serif" font-size="5.0" font-weight="normal" text-anchor="start" fill="#151515" stroke="#151515" stroke-width="0.22">week:</text>
<text transform="translate(196.00,179.30) rotate(0.05) scale(1.0628,1)" font-family="'Liberation Sans', sans-serif" font-size="5.0" font-weight="normal" text-anchor="start" fill="#151515" stroke="#151515" stroke-width="0.1">day 5</text>
<text transform="translate(215.00,184.20) rotate(0.05) scale(0.9861,1)" font-family="'Liberation Sans', sans-serif" font-size="5.0" font-weight="normal" text-anchor="start" fill="#151515" stroke="#151515" stroke-width="0.1">Tumor-free</text>
<text transform="translate(219.30,193.50) rotate(0.05) scale(0.9953,1)" font-family="'Liberation Sans', sans-serif" font-size="5.0" font-weight="normal" text-anchor="start" fill="#151515" stroke="#151515" stroke-width="0.1">Survival</text>
<text transform="translate(29.30,203.40) rotate(0.05) scale(0.9759,1)" font-family="'Liberation Sans', sans-serif" font-size="5.0" font-weight="normal" text-anchor="start" fill="#151515" stroke="#151515" stroke-width="0.22">BMT</text>
<line x1="50.80" y1="201.50" x2="175.00" y2="201.50" stroke="#151515" stroke-width="0.9"/>
<polygon points="180.2,201.5 173.8,198.9 173.8,204.1" fill="#151515"/>
<text transform="translate(53.00,216.40) rotate(0.05) scale(0.9759,1)" font-family="'Liberation Sans', sans-serif" font-size="5.0" font-weight="normal" text-anchor="start" fill="#151515" stroke="#151515" stroke-width="0.22">BMT</text>
<line x1="77.00" y1="214.50" x2="175.00" y2="214.50" stroke="#151515" stroke-width="0.9"/>
<polygon points="180.2,214.5 173.8,211.9 173.8,217.1" fill="#151515"/>
<text transform="translate(75.60,228.50) rotate(0.05) scale(0.9759,1)" font-family="'Liberation Sans', sans-serif" font-size="5.0" font-weight="normal" text-anchor="start" fill="#151515" stroke="#151515" stroke-width="0.22">BMT</text>
<line x1="100.20" y1="226.60" x2="175.00" y2="226.60" stroke="#151515" stroke-width="0.9"/>
<polygon points="180.2,226.6 173.8,224.0 173.8,229.2" fill="#151515"/>
<text transform="translate(98.00,240.50) rotate(0.05) scale(0.9759,1)" font-family="'Liberation Sans', sans-serif" font-size="5.0" font-weight="normal" text-anchor="start" fill="#151515" stroke="#151515" stroke-width="0.22">BMT</text>
<line x1="122.50" y1="238.60" x2="175.00" y2="238.60" stroke="#151515" stroke-width="0.9"/>
<polygon points="180.2,238.6 173.8,236.0 173.8,241.2" fill="#151515"/>
<text transform="translate(122.00,252.40) rotate(0.05) scale(0.9759,1)" font-family="'Liberation Sans', sans-serif" font-size="5.0" font-weight="normal" text-anchor="start" fill="#151515" stroke="#151515" stroke-width="0.22">BMT</text>
<line x1="146.70" y1="250.50" x2="175.00" y2="250.50" stroke="#151515" stroke-width="0.9"/>
<polygon points="180.2,250.5 173.8,247.9 173.8,253.1" fill="#151515"/>
<text transform="translate(144.50,264.40) rotate(0.05) scale(0.9759,1)" font-family="'Liberation Sans', sans-serif" font-size="5.0" font-weight="normal" text-anchor="start" fill="#151515" stroke="#151515" stroke-width="0.22">BMT</text>
<line x1="166.30" y1="262.50" x2="175.00" y2="262.50" stroke="#151515" stroke-width="0.9"/>
<polygon points="180.2,262.5 173.8,259.9 173.8,265.1" fill="#151515"/>
<text transform="translate(126.30,275.10) rotate(0.05) scale(0.9926,1)" font-family="'Liberation Sans', sans-serif" font-size="5.0" font-weight="normal" text-anchor="start" fill="#151515" stroke="#151515" stroke-width="0.22">No BMT</text>
<line x1="153.80" y1="273.40" x2="175.00" y2="273.40" stroke="#151515" stroke-width="0.9"/>
<polygon points="180.2,273.4 173.8,270.6 173.8,275.8" fill="#151515"/>
<text transform="translate(184.50,200.00) rotate(90.05) scale(0.9233,1)" font-family="'Liberation Sans', sans-serif" font-size="5.5" font-weight="bold" text-anchor="start" fill="#151515" stroke="#151515" stroke-width="0.1">Tumor Challenge: A20Wt</text>
<text transform="translate(201.00,204.50) rotate(90.05) scale(0.9980,1)" font-family="'Liberation Sans', sans-serif" font-size="5.3" font-weight="bold" text-anchor="start" fill="#151515">Vaccine: A20GM-CSF</text>
<line x1="303.30" y1="196.50" x2="513.00" y2="196.50" stroke="#151515" stroke-width="0.9"/>
<polygon points="518.8,196.5 512.3,193.5 512.3,199.5" fill="#151515"/>
<line x1="303.75" y1="185.00" x2="303.75" y2="196.50" stroke="#151515" stroke-width="0.9"/>
<line x1="387.50" y1="185.00" x2="387.50" y2="205.60" stroke="#151515" stroke-width="0.9"/>
<line x1="420.50" y1="185.00" x2="420.50" y2="206.00" stroke="#151515" stroke-width="0.9"/>
<text transform="translate(295.00,182.40) rotate(0.05) scale(0.9618,1)" font-family="'Liberation Sans', sans-serif" font-size="6.0" font-weight="bold" text-anchor="start" fill="#151515" stroke="#151515" stroke-width="0.15">BMT</text>
<text transform="translate(335.80,191.70) rotate(0.05) scale(1.0200,1)" font-family="'Liberation Sans', sans-serif" font-size="6.2" font-weight="normal" text-anchor="start" fill="#151515" stroke="#151515" stroke-width="0.22">3 weeks</text>
<text transform="translate(378.80,177.50) rotate(0.05) scale(1.0032,1)" font-family="'Liberation Sans', sans-serif" font-size="6.0" font-weight="bold" text-anchor="start" fill="#151515" stroke="#151515" stroke-width="0.15">A20WT</text>
<text transform="translate(380.80,183.80) rotate(0.05) scale(1.0037,1)" font-family="'Liberation Sans', sans-serif" font-size="6.0" font-weight="bold" text-anchor="start" fill="#151515" stroke="#151515" stroke-width="0.15">day 0</text>
<text transform="translate(407.00,177.50) rotate(0.05) scale(1.0211,1)" font-family="'Liberation Sans', sans-serif" font-size="6.0" font-weight="bold" text-anchor="start" fill="#151515" stroke="#151515" stroke-width="0.15">A20GM-CSF</text>
<text transform="translate(414.30,183.80) rotate(0.05) scale(0.9777,1)" font-family="'Liberation Sans', sans-serif" font-size="6.0" font-weight="bold" text-anchor="start" fill="#151515" stroke="#151515" stroke-width="0.15">day 5</text>
<text transform="translate(458.00,191.50) rotate(0.05) scale(0.9977,1)" font-family="'Liberation Sans', sans-serif" font-size="6.2" font-weight="normal" text-anchor="start" fill="#151515" stroke="#151515" stroke-width="0.22">Survival</text>
<text transform="translate(350.00,209.70) rotate(0.05) scale(1.0276,1)" font-family="'Liberation Sans', sans-serif" font-size="6.0" font-weight="bold" text-anchor="start" fill="#151515" stroke="#151515" stroke-width="0.15" style="white-space:pre">No  BMT</text>
</svg>
</body>
</html>
